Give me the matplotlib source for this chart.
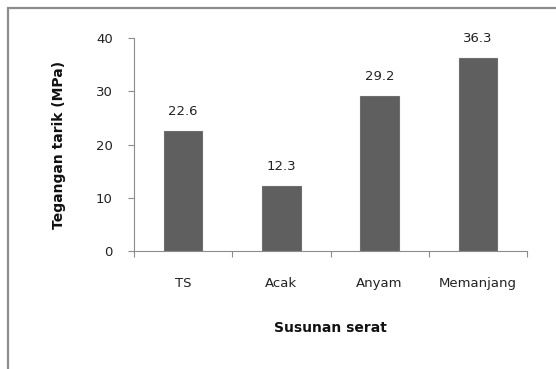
import matplotlib
matplotlib.use("Agg")
import matplotlib.pyplot as plt
from matplotlib.patches import Rectangle

# ---------------------------
# Data
# ---------------------------
categories = ["TS", "Acak", "Anyam", "Memanjang"]
values = [22.6, 12.3, 29.2, 36.3]
value_labels = ["22.6", "12.3", "29.2", "36.3"]
yticks = [0, 10, 20, 30, 40]

plt.rcParams["font.family"] = ["DejaVu Sans"]

fig = plt.figure(figsize=(5.56, 3.69), dpi=100)
ax = fig.add_axes([134 / 556, 1 - 251 / 369, 393 / 556, 213 / 369])

# outer chart frame (cut off at right/bottom like the reference)
fig.patches.append(Rectangle((8 / 556, -0.1), 1.2, 1.1 - 8 / 369,
                             transform=fig.transFigure, fill=False,
                             edgecolor="#8c8c8c", linewidth=1.6))

x = range(len(categories))
ax.bar(x, values, width=0.39, color="#5f5f5f", edgecolor="#6e6e6e", linewidth=0.8, zorder=2)
for xi, v, lab in zip(x, values, value_labels):
    ax.annotate(lab, (xi, v), xytext=(0, 14), textcoords="offset points",
                ha="center", va="center", fontsize=9.5, color="#222222")

ax.set_xlim(-0.5, 3.5)
ax.set_ylim(0, 40)
ax.set_yticks(yticks)
ax.set_xticks(list(x))
ax.set_xticklabels(categories)
ax.set_xticks([-0.5, 0.5, 1.5, 2.5, 3.5], minor=True)

for s in ["top", "right"]:
    ax.spines[s].set_visible(False)
ax.spines["left"].set_color("#8c8c8c")
ax.spines["bottom"].set_color("#8c8c8c")

ax.tick_params(axis="y", direction="out", length=4.3, width=0.8, color="#8c8c8c",
               pad=11, labelsize=9.5, labelcolor="#222222")
ax.tick_params(axis="x", which="major", length=0, pad=19, labelsize=9.5, labelcolor="#222222")
ax.tick_params(axis="x", which="minor", direction="out", length=4, width=0.8, color="#8c8c8c")

ax.set_ylabel("Tegangan tarik (MPa)", fontsize=10, fontweight="bold", color="#111111")
ax.set_xlabel("Susunan serat", fontsize=10, fontweight="bold", color="#111111")
ax.yaxis.set_label_coords(-0.173, 0.5)
ax.xaxis.set_label_coords(0.5, -0.33)

fig.savefig("out.png", dpi=100)
